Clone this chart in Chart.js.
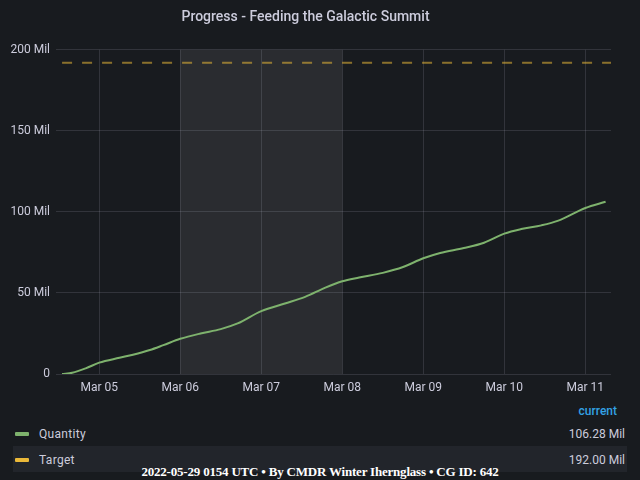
<!DOCTYPE html>
<html>
<head>
<meta charset="utf-8">
<script src="https://cdn.jsdelivr.net/npm/chart.js@4.4.1/dist/chart.umd.min.js"></script>
<style>
  html, body { margin: 0; padding: 0; background: #181b1f; width: 640px; height: 480px; overflow: hidden; }
  #wrap { position: absolute; left: 0; top: 0; width: 640px; height: 400px; }
  .lg { position: absolute; font-family: Roboto, sans-serif; font-size: 12px; color: #ccccdc; }
  .row { position: absolute; left: 13px; width: 614px; height: 26px; }
  .sw { position: absolute; left: 2px; top: 11px; width: 14px; height: 4px; border-radius: 1px; }
  .nm { position: absolute; left: 26px; top: 6px; letter-spacing: 0.3px; }
  .val { position: absolute; right: 2px; top: 6px; }
  #footer { position: absolute; left: 0; width: 640px; top: 464px; text-align: center;
    font-family: "Liberation Serif", serif; font-weight: bold; font-size: 13px;
    letter-spacing: -0.2px; color: #ffffff; }
</style>
</head>
<body>
<div id="wrap"><canvas id="chart" width="640" height="400"></canvas></div>

<div class="lg" id="hdr" style="right:23px; top:404px; color:#33a2e5; font-weight:500;">current</div>
<div class="lg row" id="row-q" style="top:421px;">
  <div class="sw" style="background:#7EB26D;"></div>
  <div class="nm">Quantity</div>
  <div class="val" id="val-q"></div>
</div>
<div class="lg row" id="row-t" style="top:446px; background:#22252b;">
  <div class="sw" style="background:#EAB839; top:12px;"></div>
  <div class="nm" style="top:7px;">Target</div>
  <div class="val" id="val-t" style="top:7px;"></div>
</div>
<div id="footer">2022-05-29 0154 UTC • By CMDR Winter Ihernglass • CG ID: 642</div>

<script>
(function() {
    'use strict';

    // hours since Mar 05 00:00
    const hours = [-11, -8, -4, 0, 6, 10, 15, 19, 24, 30, 36, 41, 48, 55, 61, 67, 72, 77, 84, 90, 96, 101, 108, 114, 120, 125, 131, 136, 144, 150];
    // quantity (Mil)
    const quantity = [0, 0.8, 3.5, 7, 10, 11.9, 14.8, 17.8, 21.7, 25, 27.7, 31.2, 38.8, 43.5, 47.6, 53.3, 57.2, 59.5, 62.4, 66, 71.4, 74.7, 77.7, 81, 86.6, 89.4, 91.7, 94.6, 102.4, 106.28];
    const targetHours = [-11, 152];
    const target = [192, 192];

    const tickHours = [0, 24, 48, 72, 96, 120, 144];
    const tickLabels = ['Mar 05', 'Mar 06', 'Mar 07', 'Mar 08', 'Mar 09', 'Mar 10', 'Mar 11'];
    const yTicks = [0, 50, 100, 150, 200];
    const shadedRange = [24, 72];
    const xRange = [-12.8, 151.6];

    const GRID = 'rgba(204,204,220,0.15)';

    Chart.defaults.font.family = 'Roboto';
    Chart.defaults.color = '#ccccdc';

    const shade = {
        id: 'shade',
        beforeDatasetsDraw(chart) {
            const ctx = chart.ctx, a = chart.chartArea, x = chart.scales.x;
            const x1 = x.getPixelForValue(shadedRange[0]);
            const x2 = x.getPixelForValue(shadedRange[1]);
            ctx.save();
            ctx.fillStyle = 'rgba(255,255,255,0.08)';
            ctx.fillRect(x1, a.top, x2 - x1, a.bottom - a.top);
            ctx.restore();
        }
    };

    new Chart(document.getElementById('chart').getContext('2d'), {
        type: 'line',
        data: {
            datasets: [
                {
                    label: 'Quantity',
                    data: hours.map((h, i) => ({ x: h, y: quantity[i] })),
                    borderColor: '#7EB26D',
                    borderWidth: 2,
                    pointRadius: 0,
                    cubicInterpolationMode: 'monotone',
                    fill: false
                },
                {
                    label: 'Target',
                    data: targetHours.map((h, i) => ({ x: h, y: target[i] })),
                    borderColor: 'rgba(234,184,57,0.55)',
                    borderWidth: 2,
                    borderDash: [10, 10],
                    pointRadius: 0,
                    fill: false
                }
            ]
        },
        options: {
            responsive: false,
            animation: false,
            layout: { padding: { left: 0, right: 29, top: 0, bottom: 0 } },
            plugins: {
                legend: { display: false },
                tooltip: { enabled: false },
                title: {
                    display: true,
                    text: 'Progress - Feeding the Galactic Summit',
                    color: '#ccccdc',
                    font: { family: 'Roboto', size: 14, weight: '500' },
                    padding: { top: 9, bottom: 24 }
                }
            },
            scales: {
                x: {
                    type: 'linear',
                    min: xRange[0], max: xRange[1],
                    afterBuildTicks: s => { s.ticks = tickHours.map(v => ({ value: v })); },
                    afterFit: s => { s.height = 26; },
                    grid: { color: GRID, drawTicks: false },
                    border: { display: false },
                    ticks: {
                        padding: 7,
                        maxRotation: 0,
                        font: { size: 12 },
                        callback: v => tickLabels[tickHours.indexOf(v)]
                    }
                },
                y: {
                    min: 0, max: 200,
                    afterBuildTicks: s => { s.ticks = yTicks.map(v => ({ value: v })); },
                    afterFit: s => { s.width = 56; },
                    grid: { color: GRID, drawTicks: false },
                    border: { display: false },
                    ticks: {
                        padding: 6,
                        font: { size: 12 },
                        callback: v => v === 0 ? '0' : v + ' Mil'
                    }
                }
            }
        },
        plugins: [shade]
    });

    document.getElementById('val-q').textContent = quantity[quantity.length - 1].toFixed(2) + ' Mil';
    document.getElementById('val-t').textContent = target[target.length - 1].toFixed(2) + ' Mil';
})();
</script>
</body>
</html>
